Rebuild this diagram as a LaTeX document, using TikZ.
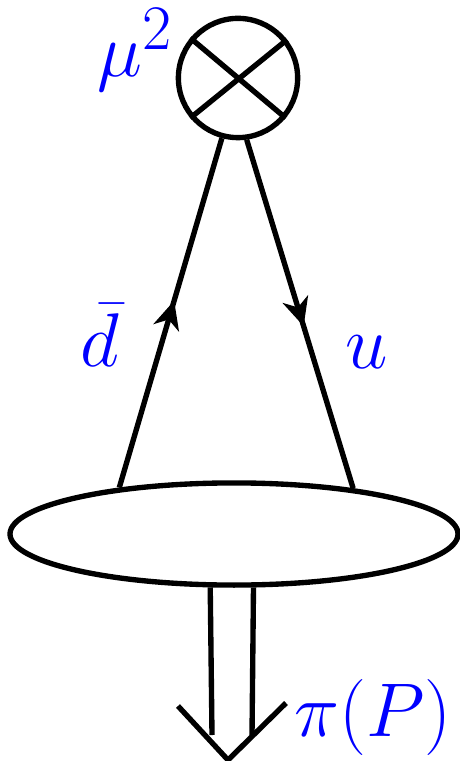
\documentclass[tikz,border=0pt]{standalone}
\usepackage{amsmath,amssymb}
\usetikzlibrary{positioning,arrows.meta,decorations.markings,shapes.geometric}
\DeclareMathSizes{24.88}{24.88}{20.74}{14.4}
\tikzset{
  >={Stealth[length=9.2pt,width=8.6pt,inset=2.8pt]},
  qline/.style={line width=1.75pt},
  qfwd/.style={qline,postaction={decorate},
    decoration={markings,mark=at position #1 with {\arrow{>}}}},
  vtx/.style={circle,draw=black,line width=1.75pt,minimum size=39pt,inner sep=0pt},
  blob/.style={ellipse,draw=black,line width=1.75pt,minimum width=146.5pt,
    minimum height=33.4pt,inner sep=0pt},
  qlbl/.style={text=blue,font=\Huge,inner sep=0pt,anchor=base west},
}
\begin{document}
\begin{tikzpicture}[x=0.327pt,y=-0.327pt]
  \useasboundingbox (0,0) rectangle (459,761);
  \node[vtx] (vert) at (238,78) {};
  \node[blob] (had) at (234,534) {};
  % crossed vertex
  \draw[qline] (vert.140)--(vert.320);
  \draw[qline] (vert.220)--(vert.38);
  % quark lines
  \draw[qfwd=.535] (had.158.5)--(vert.255);
  \draw[qfwd=.535] (vert.278)--(had.21.5);
  % outgoing pion
  \coordinate (pl) at (212,735);
  \coordinate (pr) at (252,735);
  \coordinate (cl) at (178,706);
  \coordinate (ctip) at (228,760);
  \coordinate (cr) at (286,703);
  \draw[qline] (had.246)--(pl);
  \draw[qline] (had.290)--(pr);
  \draw[qline] (cl)--(ctip)--(cr);
  % labels
  \node[qlbl] (mu) at (97,77) {$\mu^2$};
  \node[qlbl] (dbar) at (80,367) {$\bar d$};
  \node[qlbl] (uq) at (345,369) {$u$};
  \node[qlbl] (pi) at (294,736) {$\pi(P)$};
\end{tikzpicture}
\end{document}
